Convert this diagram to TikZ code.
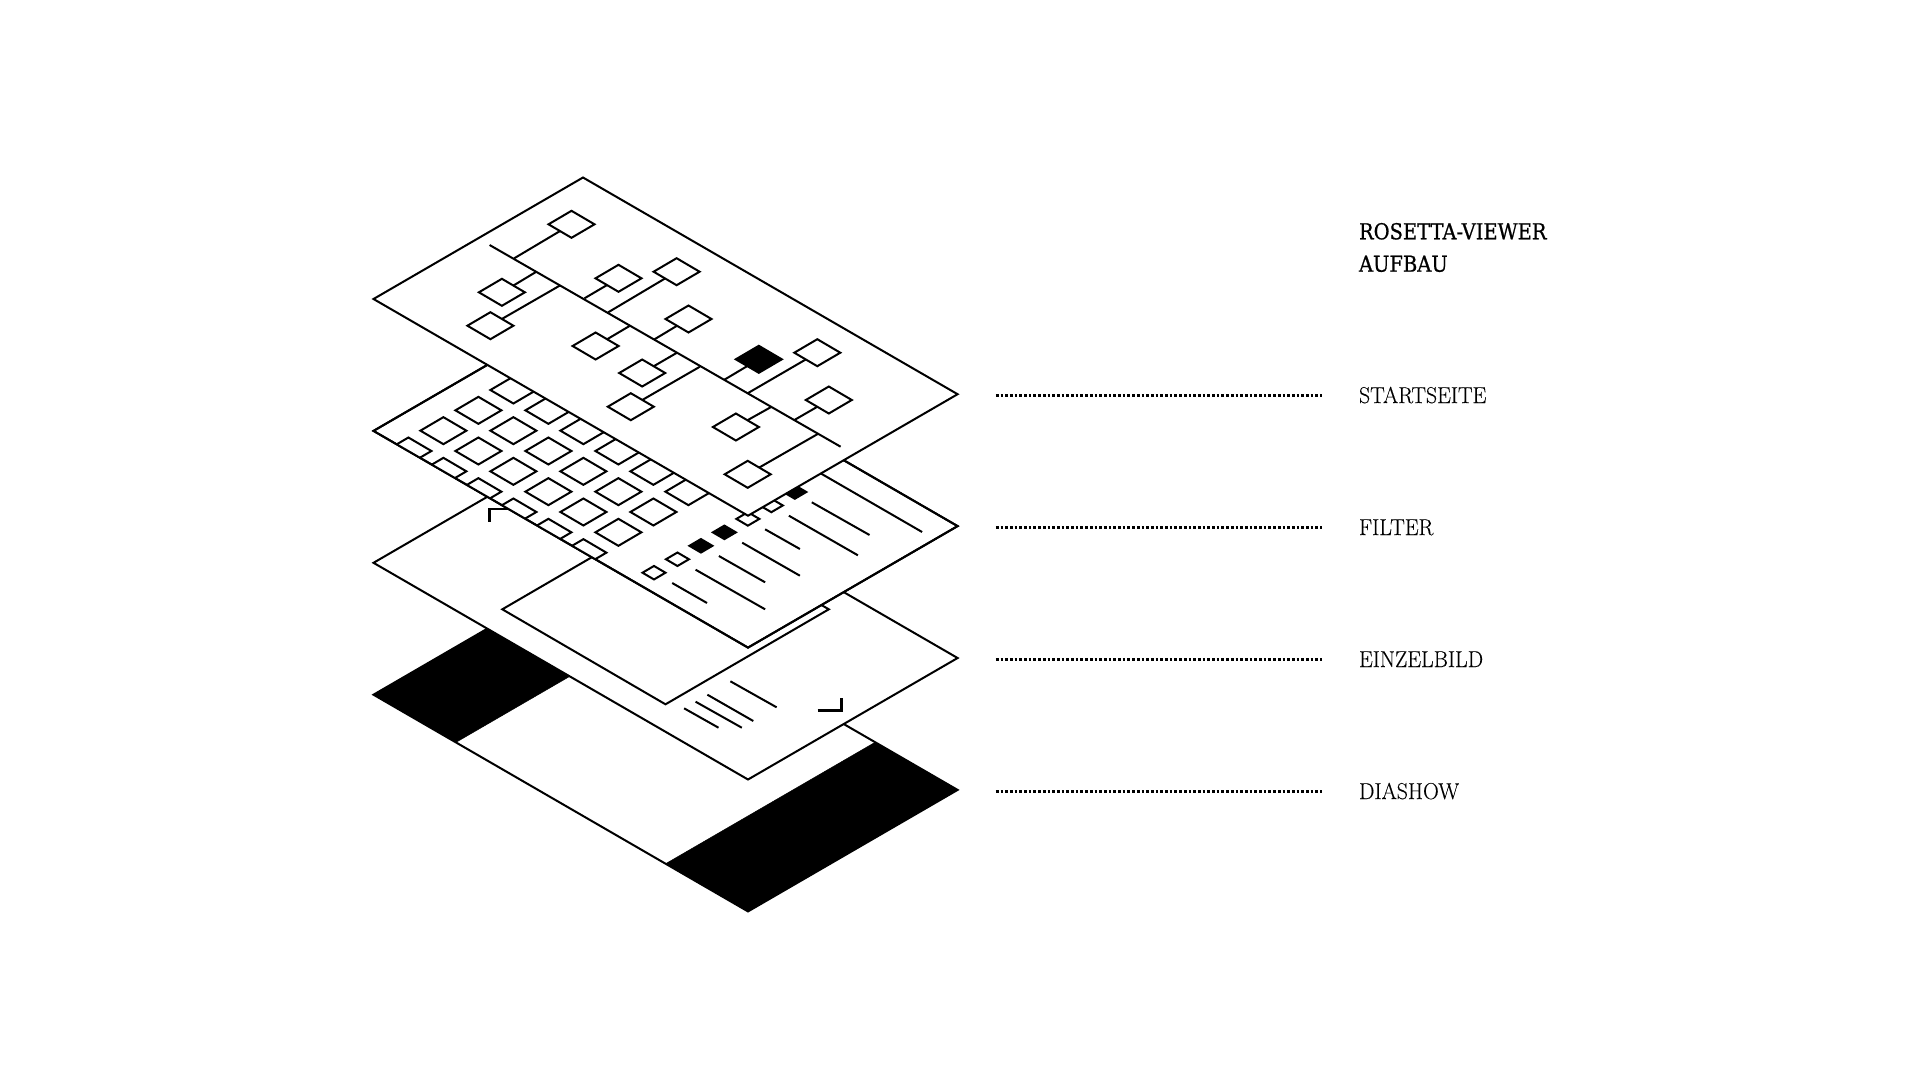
\documentclass[tikz,border=0pt]{standalone}
\usepackage{fontspec}
\usetikzlibrary{shapes.geometric}
\usetikzlibrary{calc}
\setmainfont{Latin Modern Roman}[FakeStretch=0.95, FakeBold=0.25]
\newfontfamily\titlefont{DejaVu Serif}[FakeStretch=0.885, FakeBold=0.7]
\begin{document}
\begin{tikzpicture}[x=1pt, y=-1pt,
 line width=2pt,
sheet/.style={draw, fill=white, line join=miter},
edgeline/.style={draw, line join=miter},
band/.style={draw, fill=black, line width=0.5pt},
box/.style={diamond, draw, fill=white, inner sep=0pt, outer sep=0pt, minimum width=46pt, minimum height=27pt},
smallbox/.style={box, minimum width=23pt, minimum height=13.5pt},
leader/.style={line width=2.7pt, dash pattern=on 2.7pt off 2pt},
crop/.style={line width=2.6pt, line join=miter},
label/.style={anchor=base west, inner sep=0pt, font=\fontsize{23}{23}\selectfont},
title/.style={anchor=base west, inner sep=0pt, font=\titlefont\fontsize{22}{22}\selectfont}]

	\useasboundingbox (0,0) rectangle (1920,1080);

	\foreach \sname/\dy in {show/395.7, bild/263.8, filter/131.9, start/0} {
		\coordinate (\sname L) at (373.5,299+\dy);
		\coordinate (\sname T) at (583,177.5+\dy);
		\coordinate (\sname R) at (957.6,394.2+\dy);
		\coordinate (\sname B) at (748,515.7+\dy);
	}

	% diashow
	\draw[sheet] (showL) -- (showT) -- (showR) -- (showB) -- cycle;
	\draw[band] (showL) -- (showT) -- ($(showT)!0.22!(showR)$) -- ($(showL)!0.22!(showB)$) -- cycle;
	\draw[band] (showR) -- (showB) -- ($(showB)!0.22!(showL)$) -- ($(showR)!0.22!(showT)$) -- cycle;

	% einzelbild
	\draw[sheet] (bildL) -- (bildT) -- (bildR) -- (bildB) -- cycle;
	\draw[crop] (489.6,521.7) -- (489.6,509) -- (509.4,509);
	\draw[crop] (817.7,710.5) -- (841.2,710.5) -- (841.2,698.3);
	\draw[sheet] (502.3,609.3) -- (665.6,514.3) -- (828.8,609.3) -- (665.5,704.3) -- cycle;
	\draw (730.4,681.3) -- (776.6,707.3);
	\draw (707.4,694.7) -- (753.3,721);
	\draw (695.6,701.7) -- (741.8,727.7);
	\draw (684.1,708.3) -- (718.5,727.7);

	% filter
	\draw[sheet] (filterL) -- (filterT) -- (filterR) -- (filterB) -- cycle;
	\begin{scope}
		\clip (filterL) -- (filterT) -- (filterR) -- (filterB) -- cycle;
		\foreach \i in {0,...,5}
			\foreach \j in {0,...,3}
				\node[box] (grid\i\j) at (513.4+35*\i-35*\j, 390+20.33*\i+20.33*\j) {};
	\end{scope}
	\draw[edgeline] (filterL) -- (filterT) -- (filterR) -- (filterB) -- cycle;
	\foreach \k/\col in {0/black, 1/white, 2/white, 3/black, 4/black, 5/white, 6/white}
		\node[smallbox, fill=\col] (small\k) at (794.8-23.47*\k, 492+13.45*\k) {};
	\draw (800,461.4) -- (922.1,532);
	\draw (811.8,502.3) -- (869.5,535);
	\draw (788.9,515.7) -- (857.9,555.3);
	\draw (765.1,529.3) -- (799.9,549);
	\draw (742.2,542.7) -- (799.9,575.7);
	\draw (718.9,556) -- (765.1,582.3);
	\draw (695.6,569.7) -- (765.1,609.3);
	\draw (672.2,583) -- (707,603);

	% startseite
	\draw[sheet] (startL) -- (startT) -- (startR) -- (startB) -- cycle;
	\draw (489.6,245) -- (840.6,446.7);
	\foreach \n/\dx/\dyy/\col/\tx/\ty/\side in {
		a/571.5/224.3/white/514.2/258.3/south west,
		b/501.9/292.3/white/535.9/272/north east,
		c/490.4/325.7/white/559.6/285.7/north east,
		d/618.5/278.3/white/584.5/298.3/south west,
		e/676.6/271.7/white/608.2/312.3/south west,
		f/688.5/319/white/654.5/339.3/south west,
		g/595.6/346/white/630/325.7/north east,
		h/642.2/373/white/677/352.7/north east,
		i/630.8/406.7/white/699.9/366.7/north east,
		j/758.8/359.3/black/724.4/379.7/south west,
		k/817.3/352.7/white/748.1/393/south west,
		l/828.8/400/white/794.4/420/south west,
		m/735.9/427/white/771.1/407/north east,
		n/747.7/474.3/white/817.7/434/north east} {
		\node[box, fill=\col] (tree\n) at (\dx,\dyy) {};
		\coordinate (fork\n) at (\tx,\ty);
		\draw (fork\n) -- (tree\n.\side);
	}

	% labels
	\node[title] (heading) at (1358,239.3) {ROSETTA-VIEWER};
	\node[title] (subheading) at (1358,271.7) {AUFBAU};
	\foreach \lname/\ltext/\ly in {startseite/STARTSEITE/395.5, filter/FILTER/527.5, einzel/EINZELBILD/659.5, dia/DIASHOW/791.5} {
		\coordinate (lead\lname) at (995.8,\ly);
		\coordinate (stop\lname) at (1322,\ly);
		\node[label] (\lname) at (1358,\ly+7.5) {\ltext};
		\draw[leader] (lead\lname) -- (stop\lname);
	}
\end{tikzpicture}
\end{document}
